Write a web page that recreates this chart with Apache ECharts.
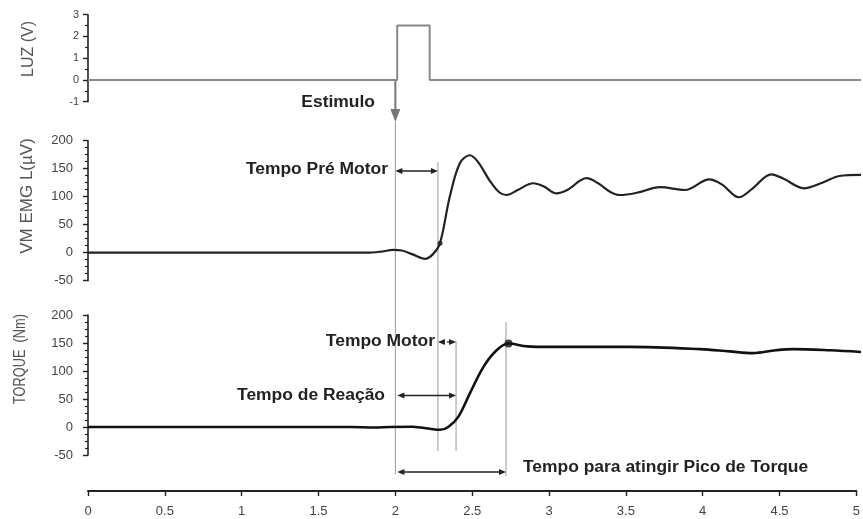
<!DOCTYPE html>
<html>
<head>
<meta charset="utf-8">
<script src="https://cdn.jsdelivr.net/npm/echarts@6/dist/echarts.min.js"></script>
<style>
html,body{margin:0;padding:0;background:#fff;}
#c{width:863px;height:519px;}
</style>
</head>
<body>
<div id="c"></div>
<script>
// ---- data ----
const lightT = [0, 2.0, 2.0, 2.21, 2.21, 5];
const lightV = [0, 0, 2.5, 2.5, 0, 0];

const emgT = [0, 1.5, 1.8, 1.9, 1.975, 2.03, 2.1, 2.18, 2.23, 2.277, 2.34, 2.406, 2.47, 2.52, 2.6, 2.66, 2.707, 2.78, 2.88, 2.95, 3.03, 3.1, 3.225, 3.3, 3.376, 3.44, 3.55, 3.70, 3.86, 4.02, 4.1, 4.21, 4.3, 4.42, 4.5, 4.63, 4.75, 4.86, 5.0];
const emgV = [0, 0, 0, 2, 5, 4, -3, -11, -3, 17, 100, 160, 174, 163, 128, 108, 103, 112, 124, 118, 106, 112, 133, 124, 109, 103, 107, 117, 112, 131, 122, 99, 115, 140, 132, 115, 125, 137, 139];

const torqueT = [0, 1.7, 1.85, 1.95, 2.1, 2.15, 2.23, 2.277, 2.33, 2.395, 2.47, 2.557, 2.643, 2.72, 2.84, 3.0, 3.5, 3.96, 4.15, 4.30, 4.45, 4.56, 4.8, 5.0];
const torqueV = [0, 0, -1, 0, 0.5, -1, -4, -5, 0, 18, 60, 107, 137, 149, 144, 143, 143, 139, 135, 132, 137, 139, 137, 134];

// event times: stimulus, EMG onset, torque onset, torque peak
const eventTimes = [2.0, 2.277, 2.395, 2.72];

const xTicks = ['0','0.5','1','1.5','2','2.5','3','3.5','4','4.5','5'];
const lightTicks = [-1, 0, 1, 2, 3];
const emgTicks = [-50, 0, 50, 100, 150, 200];
const torqueTicks = [-50, 0, 50, 100, 150, 200];

// ---- chart ----
const chart = echarts.init(document.getElementById('c'), null, {renderer: 'canvas'});
const FONT = 'Liberation Sans, Arial, sans-serif';
const pair = (a, b) => a.map((v, i) => [v, b[i]]);

function yAxisCfg(gi, ticks, minorSplit, fs, margin) {
  return {
    gridIndex: gi, type: 'value',
    min: ticks[0], max: ticks[ticks.length - 1], interval: ticks[1] - ticks[0],
    axisLine: {show: true, lineStyle: {color: '#222', width: 1.6}},
    axisTick: {show: true, inside: false, length: 5, lineStyle: {color: '#222', width: 1.4}},
    minorTick: {show: true, splitNumber: minorSplit, length: 3, lineStyle: {color: '#222', width: 1.2}},
    splitLine: {show: false},
    axisLabel: {color: '#444', fontSize: fs, fontFamily: FONT, margin: margin}
  };
}
function hiddenX(gi) {
  return {gridIndex: gi, type: 'value', min: 0, max: 5, show: false};
}

const L = 88, R = 2;
const option = {
  animation: false,
  backgroundColor: '#fff',
  grid: [
    {left: L, right: R, top: 14.7, height: 87},
    {left: L, right: R, top: 140.7, height: 140},
    {left: L, right: R, top: 315, height: 140},
    {left: L, right: R, top: 490, height: 1}
  ],
  xAxis: [hiddenX(0), hiddenX(1), hiddenX(2), {
    gridIndex: 3, type: 'value', min: 0, max: 5, interval: 0.5,
    axisLine: {show: true, onZero: false, lineStyle: {color: '#222', width: 2}},
    axisTick: {show: true, length: 5, lineStyle: {color: '#222', width: 1.4}},
    splitLine: {show: false},
    axisLabel: {color: '#444', fontSize: 13, fontFamily: FONT, margin: 14,
      formatter: v => xTicks[Math.round(v * 2)]}
  }],
  yAxis: [
    yAxisCfg(0, lightTicks, 2, 11, 9),
    yAxisCfg(1, emgTicks, 4, 13, 15),
    yAxisCfg(2, torqueTicks, 4, 13, 15),
    {gridIndex: 3, type: 'value', show: false, min: 0, max: 1}
  ],
  series: [
    {type: 'line', xAxisIndex: 0, yAxisIndex: 0, data: pair(lightT, lightV), showSymbol: false,
      lineStyle: {color: '#888', width: 2}},
    {type: 'line', xAxisIndex: 1, yAxisIndex: 1, data: pair(emgT, emgV), showSymbol: false, smooth: 0.35,
      lineStyle: {color: '#222', width: 2.2}},
    {type: 'line', xAxisIndex: 2, yAxisIndex: 2, data: pair(torqueT, torqueV), showSymbol: false, smooth: 0.35,
      lineStyle: {color: '#111', width: 2.6}},
    {type: 'scatter', xAxisIndex: 1, yAxisIndex: 1, symbolSize: 5, itemStyle: {color: '#111'},
      data: [[eventTimes[1], emgV[emgT.indexOf(eventTimes[1])]]]},
    {type: 'scatter', xAxisIndex: 2, yAxisIndex: 2, symbolSize: 8, itemStyle: {color: '#111'},
      data: [[eventTimes[3], torqueV[torqueT.indexOf(eventTimes[3])]]]}
  ]
};
chart.setOption(option);

// ---- annotations ----
const px = t => chart.convertToPixel({xAxisIndex: 3}, t);
const ty = (axis, v) => chart.convertToPixel({yAxisIndex: axis}, v);
const g = [];
const grey = '#9a9a9a';
function vline(x, y1, y2) {
  g.push({type: 'line', silent: true, shape: {x1: x, y1: y1, x2: x, y2: y2}, style: {stroke: grey, lineWidth: 1}});
}
function head(x, y, dir, col, len, hw) {
  g.push({type: 'polygon', silent: true, shape: {points: [[x, y], [x - dir * len, y - hw], [x - dir * len, y + hw]]}, style: {fill: col}});
}
function harrow(x1, x2, y, dashed) {
  g.push({type: 'line', silent: true, shape: {x1: x1 + 3, y1: y, x2: x2 - 3, y2: y},
    style: {stroke: '#222', lineWidth: 1.3, lineDash: dashed ? [3, 3] : null}});
  head(x1, y, -1, '#222', 7, 3);
  head(x2, y, 1, '#222', 7, 3);
}
function label(text, xr, y, align) {
  g.push({type: 'text', silent: true, x: xr, y: y, scaleX: 1.09,
    style: {text: text, fill: '#222', font: 'bold 16px ' + FONT, align: align || 'right', verticalAlign: 'middle'}});
}
function title(text, cx, cy, size, sx) {
  g.push({type: 'text', silent: true, x: cx, y: cy, rotation: Math.PI / 2, scaleX: sx || 1,
    style: {text: text, fill: '#555', font: size + 'px ' + FONT, align: 'center', verticalAlign: 'middle'}});
}

const xs = px(eventTimes[0]), xe = px(eventTimes[1]), xm = px(eventTimes[2]), xp = px(eventTimes[3]);
const y0 = ty(0, 0);

// stimulus arrow
g.push({type: 'line', silent: true, shape: {x1: xs, y1: y0, x2: xs, y2: 110}, style: {stroke: '#777', lineWidth: 2}});
g.push({type: 'polygon', silent: true, shape: {points: [[xs, 122], [xs - 5, 109], [xs + 5, 109]]}, style: {fill: '#777'}});

vline(xs, 122, 474);
vline(xe, 162, 451);
vline(xm, 341, 451);
vline(xp, 322, 476);

harrow(xs, xe, 171);
harrow(xe, xm, 342, true);
harrow(xs + 2, xm, 395.5);
harrow(xs + 2, xp, 472);

label('Estimulo', 375, 103);
label('Tempo Pré Motor', 388, 170);
label('Tempo Motor', 435, 342);
label('Tempo de Reação', 385, 396);
label('Tempo para atingir Pico de Torque', 523, 468, 'left');

title('LUZ (V)', 29, 49, 16);
title('VM EMG L(µV)', 27, 196, 17);
title('TORQUE  (Nm)', 21, 359, 16, 0.8);

chart.setOption({graphic: g});
</script>
</body>
</html>
